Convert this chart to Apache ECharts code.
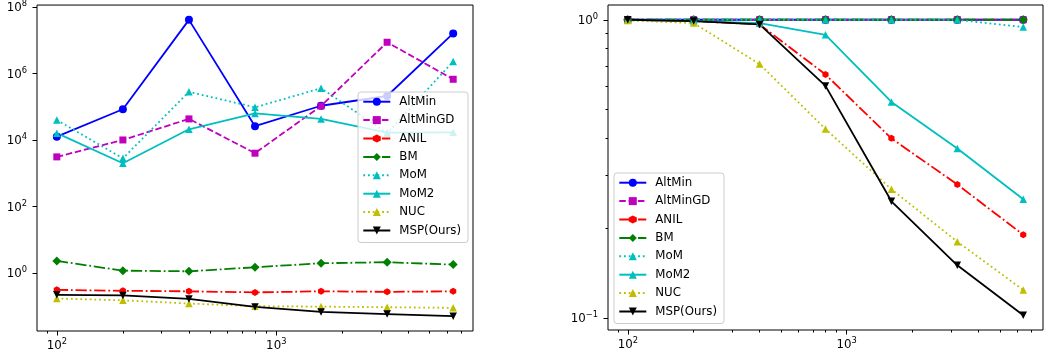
<!DOCTYPE html>
<html>
<head>
<meta charset="utf-8">
<script src="https://cdn.jsdelivr.net/npm/echarts@6/dist/echarts.min.js"></script>
<style>
html,body{margin:0;padding:0;background:#fff;}
#c{width:1044px;height:360px;}
</style>
</head>
<body>
<div id="c"></div>
<script>
// ---- data ----
const xValues = [100, 200, 400, 800, 1600, 3200, 6400];
const seriesNames = ['AltMin', 'AltMinGD', 'ANIL', 'BM', 'MoM', 'MoM2', 'NUC', 'MSP(Ours)'];

// left panel
const altMinL   = [1.26e4, 8.4e4, 4.1e7, 2.6e4, 1.07e5, 2.1e5, 1.6e7];
const altMinGDL = [3.1e3, 1.0e4, 4.3e4, 4.0e3, 1.05e5, 8.7e6, 6.7e5];
const anilL     = [0.31, 0.29, 0.28, 0.26, 0.28, 0.27, 0.28];
const bmL       = [2.3, 1.17, 1.12, 1.48, 1.96, 2.1, 1.78];
const momL      = [4.0e4, 2.8e3, 2.8e5, 9.6e4, 3.6e5, 1.6e4, 2.3e6];
const mom2L     = [1.6e4, 2.0e3, 2.1e4, 6.3e4, 4.3e4, 1.66e4, 1.7e4];
const nucL      = [0.17, 0.15, 0.12, 0.10, 0.097, 0.093, 0.089];
const mspL      = [0.22, 0.21, 0.165, 0.095, 0.067, 0.058, 0.05];

// right panel
const altMinR   = [1, 1, 1, 1, 1, 1, 1];
const altMinGDR = [1, 1, 1, 1, 1, 1, 1];
const anilR     = [1.0, 0.99, 0.965, 0.655, 0.40, 0.28, 0.19];
const bmR       = [1, 1, 1, 1, 1, 1, 1];
const momR      = [1, 1, 1, 1, 1, 1, 0.945];
const mom2R     = [1.0, 0.99, 0.975, 0.89, 0.53, 0.37, 0.25];
const nucR      = [0.995, 0.975, 0.71, 0.43, 0.27, 0.18, 0.124];
const mspR      = [1.0, 0.99, 0.965, 0.60, 0.246, 0.15, 0.102];

// tick values
const xMajorTicks = [100, 1000];
const xMinorTicks = [90, 200, 300, 400, 500, 600, 700, 800, 900, 2000, 3000, 4000, 5000, 6000, 7000];
const yMajorTicksL = [1, 1e2, 1e4, 1e6, 1e8];
const yMajorTicksR = [0.1, 1];
const yMinorTicksR = [0.2, 0.3, 0.4, 0.5, 0.6, 0.7, 0.8, 0.9];

// ---- styles ----
const FONT = 'DejaVu Sans';
const LW = 1.8;
const styles = {
  'AltMin':    {color: '#0000ff', dash: 'solid', symbol: 'circle', size: 8},
  'AltMinGD':  {color: '#bf00bf', dash: [6.5, 2.8], symbol: 'rect', size: 7},
  'ANIL':      {color: '#ff0000', dash: [11.3, 2.8, 1.8, 2.8], symbol: 'path://M0,-1 L0.866,-0.5 L0.866,0.5 L0,1 L-0.866,0.5 L-0.866,-0.5 Z', size: [6.2, 7]},
  'BM':        {color: '#008000', dash: [11.3, 2.8, 1.8, 2.8], symbol: 'diamond', size: 9},
  'MoM':       {color: '#00bfbf', dash: [1.8, 2.9], symbol: 'triangle', size: 7.5},
  'MoM2':      {color: '#00bfbf', dash: 'solid', symbol: 'triangle', size: 7.5},
  'NUC':       {color: '#bfbf00', dash: [1.8, 2.9], symbol: 'triangle', size: 7.5},
  'MSP(Ours)': {color: '#000000', dash: 'solid', symbol: 'triangle', size: 7.5, rotate: 180}
};

const leftData  = [altMinL, altMinGDL, anilL, bmL, momL, mom2L, nucL, mspL];
const rightData = [altMinR, altMinGDR, anilR, bmR, momR, mom2R, nucR, mspR];

const lg = v => Math.log10(v);

function paddedRange(arrs) {
  let lo = Infinity, hi = -Infinity;
  arrs.forEach(a => a.forEach(v => { const l = lg(v); lo = Math.min(lo, l); hi = Math.max(hi, l); }));
  const m = (hi - lo) * 0.05;
  return [lo - m, hi + m];
}
const xRange = paddedRange([xValues]);
const yRangeL = paddedRange(leftData);
const yRangeR = paddedRange(rightData);

function supLabel(v) {
  const e = Math.round(v);
  return '{b|10}{s|' + (e < 0 ? '\u2212' + (-e) : e) + '}';
}
const rich = {
  b: {fontSize: 11.8, fontFamily: FONT, color: '#000', verticalAlign: 'bottom', lineHeight: 14},
  s: {fontSize: 8.3, fontFamily: FONT, color: '#000', verticalAlign: 'bottom', lineHeight: 10, padding: [0, 0, 6, 0]}
};

function majorAxis(grid, range, ticks, isX) {
  return {
    gridIndex: grid, type: 'value', min: range[0], max: range[1],
    position: isX ? 'bottom' : 'left',
    axisLine: {show: false, onZero: false}, splitLine: {show: false},
    axisTick: {show: true, customValues: ticks.map(lg), length: 4.5, lineStyle: {color: '#000', width: 1}},
    axisLabel: {show: true, customValues: ticks.map(lg), formatter: supLabel, rich: rich,
                margin: isX ? 7 : 10, showMinLabel: true, showMaxLabel: true}
  };
}
function minorAxis(grid, range, ticks, isX) {
  return {
    gridIndex: grid, type: 'value', min: range[0], max: range[1],
    position: isX ? 'bottom' : 'left',
    axisLine: {show: false, onZero: false}, splitLine: {show: false},
    axisTick: {show: true, customValues: ticks.map(lg), length: 2.5, lineStyle: {color: '#000', width: 1}},
    axisLabel: {show: true, customValues: ticks.map(lg), formatter: () => '', margin: 2}
  };
}

const xAxis = [
  majorAxis(0, xRange, xMajorTicks, true),
  minorAxis(0, xRange, xMinorTicks, true),
  majorAxis(1, xRange, xMajorTicks, true),
  minorAxis(1, xRange, xMinorTicks, true)
];
const yAxis = [
  majorAxis(0, yRangeL, yMajorTicksL, false),
  majorAxis(1, yRangeR, yMajorTicksR, false),
  minorAxis(1, yRangeR, yMinorTicksR, false)
];

function makeSeries(name, vals, xIdx, yIdx) {
  const s = styles[name];
  return {
    name: name, type: 'line', xAxisIndex: xIdx, yAxisIndex: yIdx,
    data: xValues.map((x, i) => [lg(x), lg(vals[i])]),
    symbol: s.symbol, symbolSize: s.size, symbolRotate: s.rotate || 0,
    showSymbol: true, showAllSymbol: true,
    lineStyle: {color: s.color, width: LW, type: s.dash},
    itemStyle: {color: s.color, borderWidth: 0},
    emphasis: {disabled: true},
    animation: false
  };
}

const series = [];
seriesNames.forEach((n, i) => series.push(makeSeries(n, leftData[i], 0, 0)));
seriesNames.forEach((n, i) => series.push(makeSeries(n, rightData[i], 2, 1)));

function legendAt(left, top) {
  return {
    left: left, top: top, orient: 'vertical',
    itemWidth: 27, itemHeight: 10, itemGap: 6.4,
    padding: [3.7, 7, 6, 4.3],
    backgroundColor: 'rgba(255,255,255,0.8)',
    borderColor: '#cccccc', borderWidth: 1, borderRadius: 3,
    textStyle: {fontSize: 11.8, fontFamily: FONT, color: '#000', lineHeight: 12, padding: [0, 0, 0, 4]},
    data: seriesNames,
    selectedMode: false,
    z: 10
  };
}

const option = {
  animation: false,
  backgroundColor: '#ffffff',
  grid: [
    {left: 37, top: 5, width: 436, height: 326, show: true, borderColor: '#000', borderWidth: 1, backgroundColor: 'transparent', containLabel: false},
    {left: 608, top: 5, width: 435, height: 325, show: true, borderColor: '#000', borderWidth: 1, backgroundColor: 'transparent', containLabel: false}
  ],
  xAxis: xAxis,
  yAxis: yAxis,
  legend: [legendAt(358, 92), legendAt(614, 173)],
  series: series
};

const chart = echarts.init(document.getElementById('c'), null, {renderer: 'canvas'});
chart.setOption(option);
</script>
</body>
</html>
